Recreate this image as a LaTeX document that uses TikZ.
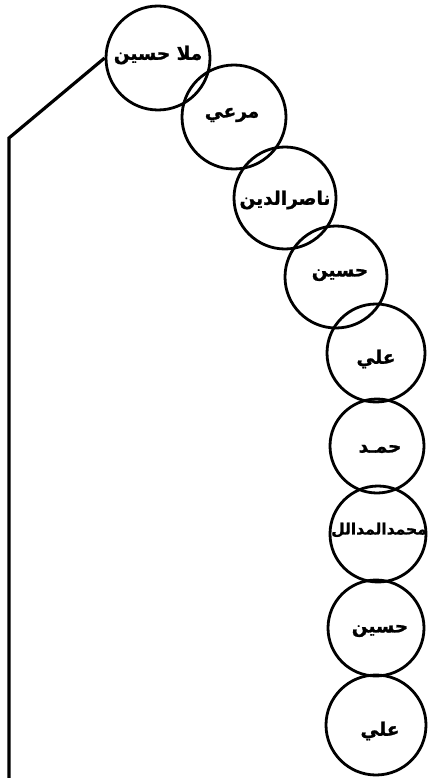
\documentclass[tikz,border=0pt]{standalone}
\usepackage{fontspec}
\TeXXeTstate=1
\newfontfamily\arabicfont[Script=Arabic]{DejaVu Sans}
\begin{document}
\begin{tikzpicture}[x=1pt,y=-1pt]
\tikzset{
  person/.style={circle, draw, line width=2.8pt, minimum size=#1, inner sep=0pt},
  lbl/.style={inner sep=0pt, font=\arabicfont\bfseries\addfontfeatures{FakeBold=1.2}\fontsize{18.5}{18.5}\selectfont},
  smalllbl/.style={lbl, font=\arabicfont\bfseries\addfontfeatures{FakeBold=1.2}\fontsize{15.5}{15.5}\selectfont},
  link/.style={line width=3.2pt, line join=miter}
}
\useasboundingbox (0,0) rectangle (428,778);
\node[person=104pt] (c1) at (158,58) {};
\node[person=104pt] (c2) at (234,117) {};
\node[person=102pt] (c3) at (285,198) {};
\node[person=102pt] (c4) at (336,277) {};
\node[person=98pt]  (c5) at (376,353) {};
\node[person=94pt]  (c6) at (377,446) {};
\node[person=96pt]  (c7) at (378,534) {};
\node[person=96pt]  (c8) at (376,628) {};
\node[person=100pt] (c9) at (376,725) {};
\node[lbl] (t1) at ([yshift=3pt]c1) {\beginR ملا حسين\endR};
\node[lbl] (t2) at ([xshift=-2pt,yshift=2pt]c2) {\beginR مرعي\endR};
\node[lbl] (t3) at ([yshift=-2pt]c3) {\beginR ناصرالدين\endR};
\node[lbl] (t4) at ([xshift=4pt,yshift=2pt]c4) {\beginR حسين\endR};
\node[lbl] (t5) at ([yshift=-6pt]c5) {\beginR علي\endR};
\node[lbl] (t6) at ([xshift=3pt,yshift=-3pt]c6) {\beginR حمـد\endR};
\node[smalllbl] (t7) at ([xshift=1pt,yshift=4pt]c7) {\beginR محمدالمدالل\endR};
\node[lbl] (t8) at ([xshift=4pt,yshift=-3pt]c8) {\beginR حسين\endR};
\node[lbl] (t9) at ([xshift=4pt,yshift=-6pt]c9) {\beginR علي\endR};
\coordinate (corner) at (9,138);
\coordinate (bottom) at (9,778);
\draw[link] (c1.west) -- (corner) -- (bottom);
\end{tikzpicture}
\end{document}
